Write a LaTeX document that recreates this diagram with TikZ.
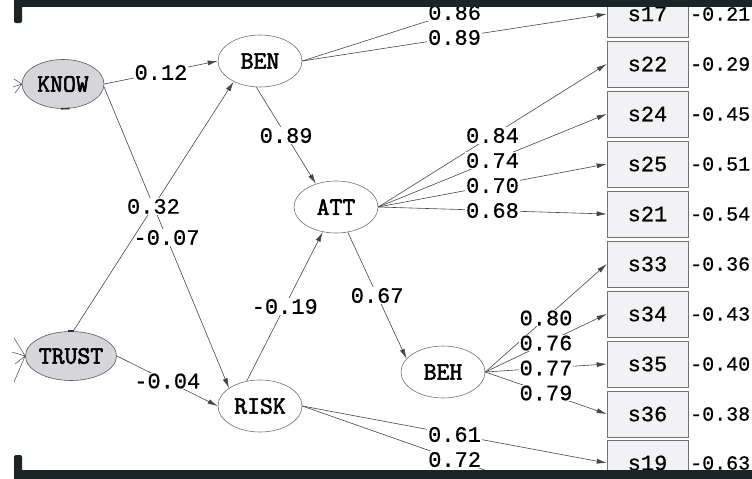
\documentclass[tikz,border=0pt]{standalone}
\usepackage{fontspec}
\setmonofont{Liberation Mono}
\newfontfamily\numfont{Liberation Mono}[FakeBold=0.6]
\newfontfamily\namefont{Latin Modern Mono}[AutoFakeBold=2.4]
\usetikzlibrary{arrows.meta,shapes.geometric}
\definecolor{band}{HTML}{1B2525}
\definecolor{edgec}{HTML}{454545}
\definecolor{boxfill}{HTML}{F2F2F4}
\definecolor{exofill}{HTML}{D6D6DA}
\begin{document}
\begin{tikzpicture}[x=1pt,y=-1pt,
  lat/.style={ellipse, draw=black!55, line width=0.6pt, fill=white, minimum width=84pt, minimum height=52pt, inner sep=0pt,
    font=\namefont\bfseries\fontsize{25}{25}\selectfont},
  exo/.style={lat, fill=exofill, draw=black!65, minimum width=82pt, minimum height=49pt},
  obs/.style={rectangle, draw=black!55, line width=0.6pt, fill=boxfill, minimum width=81pt, minimum height=46pt, inner sep=0pt,
    font=\numfont\fontsize{22}{22}\selectfont},
  pth/.style={draw=edgec, line width=0.6pt, -{Latex[length=10pt,width=5pt]}},
  lab/.style={fill=white, inner sep=1pt, font=\numfont\fontsize{22}{22}\selectfont},
  res/.style={anchor=west, inner sep=0pt, font=\numfont\fontsize{20}{20}\selectfont},
  stub/.style={draw=edgec, line width=0.5pt}
]
\useasboundingbox (0,0) rectangle (752,479);

% latent variables
\node[exo] (KNOW) at (63,84) {KNOW};
\node[exo] (TRUST) at (71,356) {TRUST};
\node[lat] (BEN) at (260,61) {BEN};
\node[lat] (ATT) at (336,207) {ATT};
\node[lat] (RISK) at (260,406) {RISK};
\node[lat] (BEH) at (443,372) {BEH};

% observed variables
\node[obs] (s17) at (647.5,14) {s17};
\node[obs] (s22) at (647.5,64) {s22};
\node[obs] (s24) at (647.5,114) {s24};
\node[obs] (s25) at (647.5,164) {s25};
\node[obs] (s21) at (647.5,214) {s21};
\node[obs] (s33) at (647.5,264) {s33};
\node[obs] (s34) at (647.5,314) {s34};
\node[obs] (s35) at (647.5,364) {s35};
\node[obs] (s36) at (647.5,414) {s36};
\node[obs] (s19) at (647.5,463) {s19};
\coordinate (up) at (607,-36);
\coordinate (down) at (607,513);

% residuals
\node[res] (r17) at (690,14) {-0.21};
\node[res] (r22) at (690,64) {-0.29};
\node[res] (r24) at (690,114) {-0.45};
\node[res] (r25) at (690,164) {-0.51};
\node[res] (r21) at (690,214) {-0.54};
\node[res] (r33) at (690,264) {-0.36};
\node[res] (r34) at (690,314) {-0.43};
\node[res] (r35) at (690,364) {-0.40};
\node[res] (r36) at (690,414) {-0.38};
\node[res] (r19) at (690,463) {-0.63};

% structural paths
\draw[pth] (KNOW.east) -- node[lab]{0.12} (BEN.west);
\draw[pth] (KNOW.-4) -- node[lab]{-0.07} (RISK.150);
\draw[pth] (TRUST.85) -- node[lab]{0.32} (BEN.218);
\draw[pth] (TRUST.east) -- node[lab]{-0.04} (RISK.west);
\draw[pth] (BEN.262) -- node[lab]{0.89} (ATT.131);
\draw[pth] (RISK.118) -- node[lab]{-0.19} (ATT.242);
\draw[pth] (ATT.295) -- node[lab]{0.67} (BEH.160);

% measurement paths
\draw[pth] (BEN.east) -- node[lab]{0.86} (up);
\draw[pth] (BEN.east) -- node[lab]{0.89} (s17.west);
\draw[pth] (ATT.east) -- node[lab]{0.84} (s22.west);
\draw[pth] (ATT.east) -- node[lab]{0.74} (s24.west);
\draw[pth] (ATT.east) -- node[lab]{0.70} (s25.west);
\draw[pth] (ATT.east) -- node[lab]{0.68} (s21.west);
\draw[pth] (BEH.east) -- node[lab]{0.80} (s33.west);
\draw[pth] (BEH.east) -- node[lab]{0.76} (s34.west);
\draw[pth] (BEH.east) -- node[lab]{0.77} (s35.west);
\draw[pth] (BEH.east) -- node[lab]{0.79} (s36.west);
\draw[pth] (RISK.east) -- node[lab]{0.61} (s19.west);
\draw[pth] (RISK.east) -- node[lab]{0.72} (down);

% cut-off covariance stubs at the left
\coordinate (k1) at (14,79);
\coordinate (k2) at (13,87);
\coordinate (k3) at (15,93);
\draw[stub] (k1) -- (KNOW.west);
\draw[stub] (k2) -- (KNOW.west);
\draw[stub] (k3) -- (KNOW.west);
\coordinate (t1) at (14,338);
\coordinate (t2) at (12,352);
\coordinate (t3) at (15,364);
\coordinate (t4) at (14,382);
\draw[stub] (t1) -- (TRUST.west);
\draw[stub] (t2) -- (TRUST.west);
\draw[stub] (t3) -- (TRUST.west);
\draw[stub] (t4) -- (TRUST.west);
\draw[line width=1.6pt, black!80] (KNOW.-95) -- (KNOW.-75);
\draw[line width=1.6pt, black!80] (TRUST.82) -- (TRUST.98);

% dark frame bands
\fill[band] (14,0) rectangle (752,7);
\fill[band, rounded corners=2pt] (14,0) -- (22,0) -- (22,23) -- (14,23) -- cycle;
\fill[band] (14,470) rectangle (752,479);
\fill[band, rounded corners=2pt] (14,479) -- (14,455) -- (22,455) -- (22,479) -- cycle;
\end{tikzpicture}
\end{document}
